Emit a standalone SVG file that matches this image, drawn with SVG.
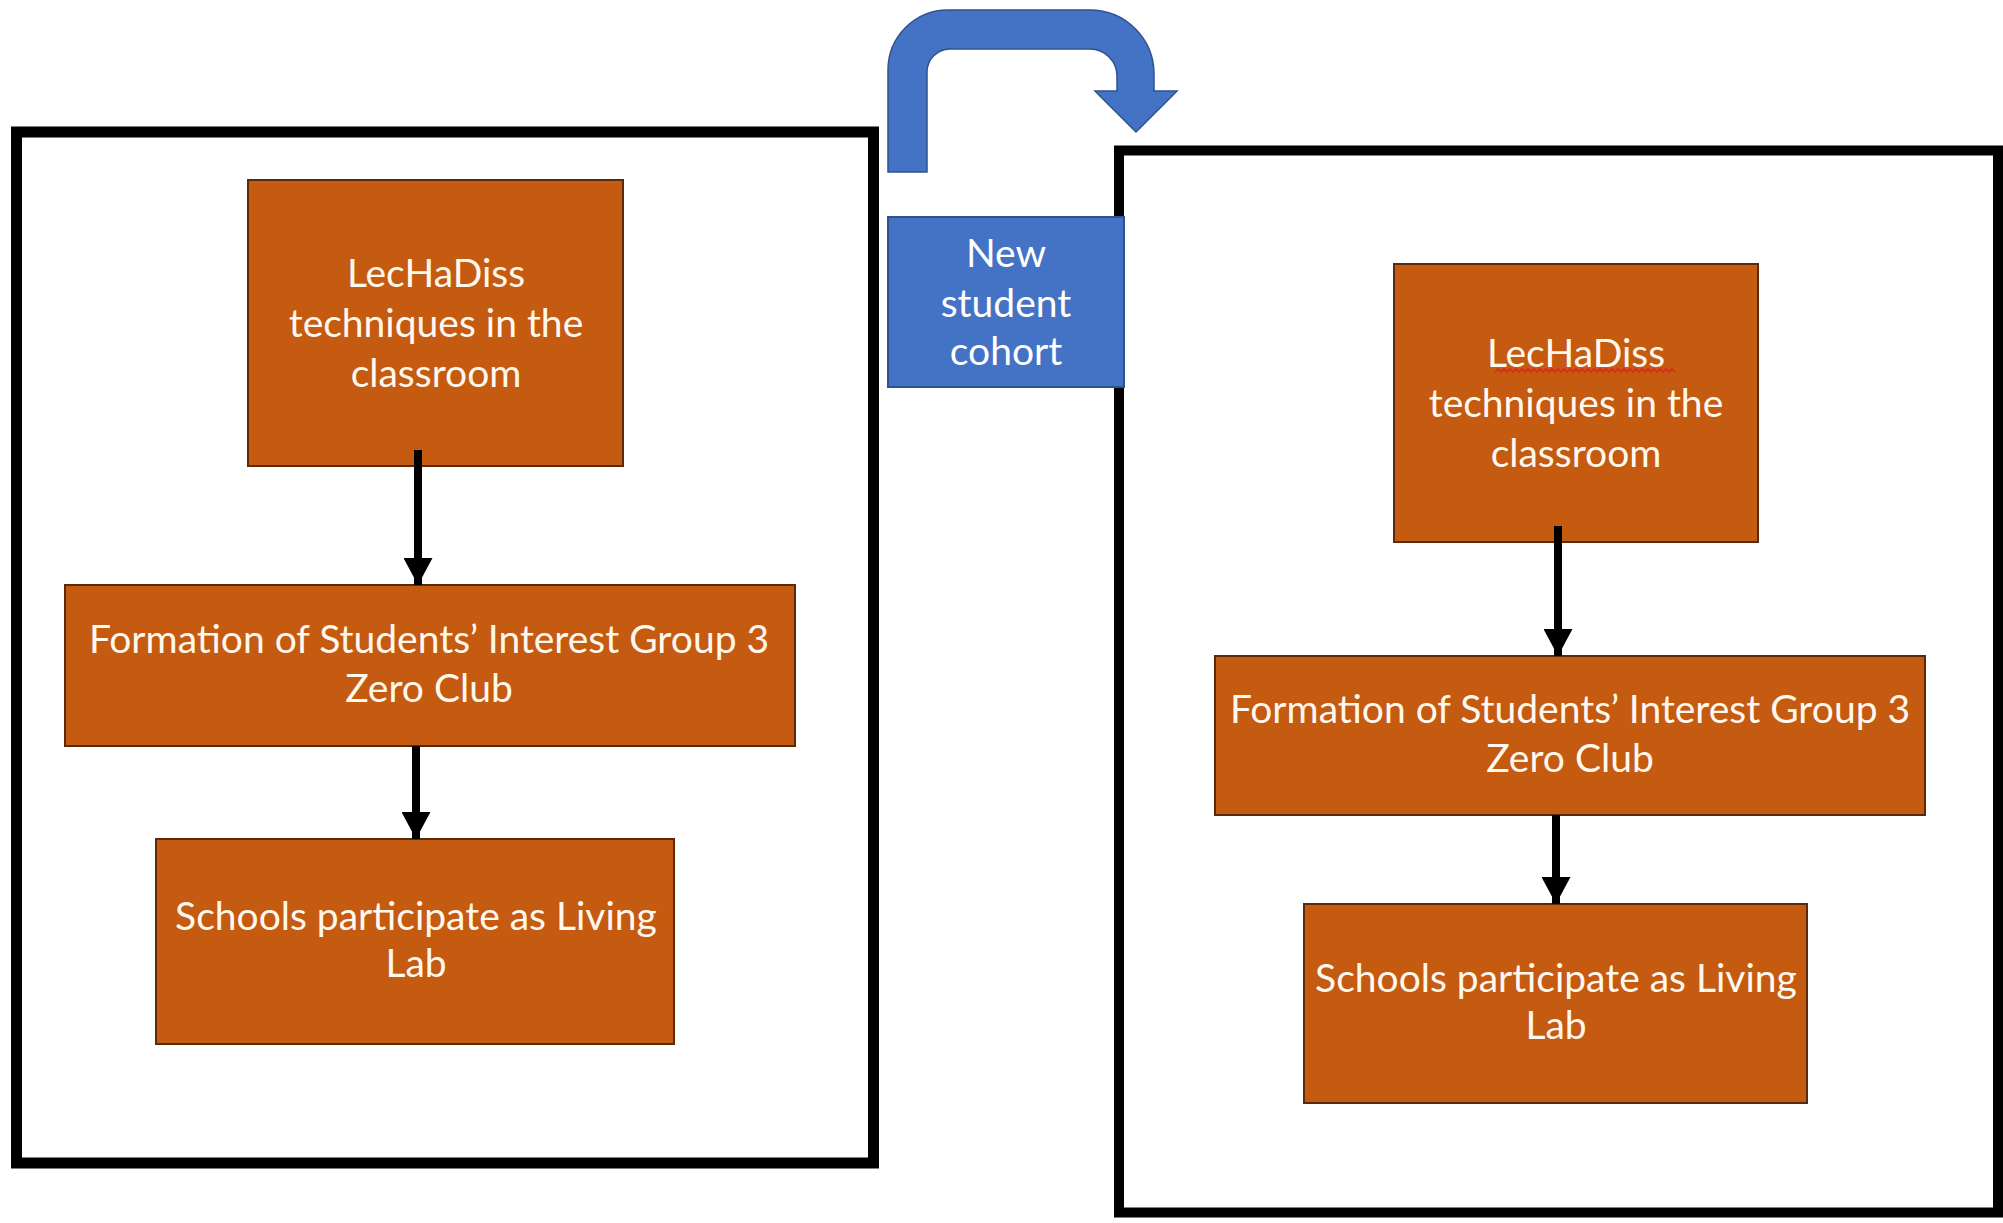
<svg xmlns="http://www.w3.org/2000/svg" width="2003" height="1223" viewBox="0 0 2003 1223">
<defs>
<style>
.frame{fill:none;stroke:#000;stroke-width:11}
.step{fill:#C55A11;stroke:#5A2A0A;stroke-width:2}
.blue{fill:#4472C4;stroke:#2F528F;stroke-width:2}
.t{font-family:Lato,"Open Sans","DejaVu Sans",sans-serif;font-size:39px;fill:#FFF8EE;text-anchor:middle}
.tb{fill:#FFFFFF}
.conn{stroke:#000;stroke-width:8;fill:none}
</style>
<marker id="ah" markerUnits="userSpaceOnUse" markerWidth="30" markerHeight="29" refX="27" refY="14.5" orient="auto" viewBox="0 0 28 29">
<path d="M0,0 L27,14.5 L0,29 Z" fill="#000"/>
</marker>
</defs>
<rect width="2003" height="1223" fill="#FFFFFF"/>

<g id="frame-left"><rect class="frame" x="16.5" y="132" width="857" height="1031"/></g>
<g id="frame-right"><rect class="frame" x="1119" y="150.5" width="879" height="1062" style="stroke-width:10"/></g>

<g id="cycle-arrow">
<path class="blue" d="M888,172 L888,70 A60,60 0 0 1 948,10 L1090,10 A64,64 0 0 1 1154,74 L1154,91 L1177,91 L1136,132 L1095,91 L1117,91 L1117,76 A27,27 0 0 0 1090,49 L950,49 A23,23 0 0 0 927,72 L927,172 Z" style="stroke-width:1.5"/>
</g>

<g id="new-cohort">
<rect class="blue" x="888" y="217" width="236" height="170"/>
<text class="t tb" x="1006" y="267">New</text>
<text class="t tb" x="1006" y="317">student</text>
<text class="t tb" x="1006" y="365">cohort</text>
</g>

<g id="left-lechadiss">
<rect class="step" x="248" y="180" width="375" height="286"/>
<text class="t" x="436" y="287">LecHaDiss</text>
<text class="t" x="436" y="337">techniques in the</text>
<text class="t" x="436" y="387">classroom</text>
</g>
<g id="left-formation">
<rect class="step" x="65" y="585" width="730" height="161"/>
<text class="t" x="429" y="653">Formation of Students’ Interest Group 3</text>
<text class="t" x="429" y="702">Zero Club</text>
</g>
<g id="left-schools">
<rect class="step" x="156" y="839" width="518" height="205"/>
<text class="t" x="416" y="930">Schools participate as Living</text>
<text class="t" x="416" y="977">Lab</text>
</g>

<g id="right-lechadiss">
<rect class="step" x="1394" y="264" width="364" height="278"/>
<text class="t" x="1576" y="367">LecHaDiss</text>
<path d="M1495,372 l3,-3 l3,3 l3,-3 l3,3 l3,-3 l3,3 l3,-3 l3,3 l3,-3 l3,3 l3,-3 l3,3 l3,-3 l3,3 l3,-3 l3,3 l3,-3 l3,3 l3,-3 l3,3 l3,-3 l3,3 l3,-3 l3,3 l3,-3 l3,3 l3,-3 l3,3 l3,-3 l3,3 l3,-3 l3,3 l3,-3 l3,3 l3,-3 l3,3 l3,-3 l3,3 l3,-3 l3,3 l3,-3 l3,3 l3,-3 l3,3 l3,-3 l3,3 l3,-3 l3,3 l3,-3 l3,3 l3,-3 l3,3 l3,-3 l3,3 l3,-3 l3,3 l3,-3 l3,3 l3,-3 l3,3" fill="none" stroke="#E02020" stroke-width="1.5"/>
<text class="t" x="1576" y="417">techniques in the</text>
<text class="t" x="1576" y="467">classroom</text>
</g>
<g id="right-formation">
<rect class="step" x="1215" y="656" width="710" height="159"/>
<text class="t" x="1570" y="723">Formation of Students’ Interest Group 3</text>
<text class="t" x="1570" y="772">Zero Club</text>
</g>
<g id="right-schools">
<rect class="step" x="1304" y="904" width="503" height="199"/>
<text class="t" x="1556" y="992">Schools participate as Living</text>
<text class="t" x="1556" y="1039">Lab</text>
</g>

<g id="connectors">
<line class="conn" x1="418" y1="450" x2="418" y2="585" marker-end="url(#ah)"/>
<line class="conn" x1="416" y1="746" x2="416" y2="839" marker-end="url(#ah)"/>
<line class="conn" x1="1558" y1="526" x2="1558" y2="656" marker-end="url(#ah)"/>
<line class="conn" x1="1556" y1="815" x2="1556" y2="904" marker-end="url(#ah)"/>
</g>
</svg>
